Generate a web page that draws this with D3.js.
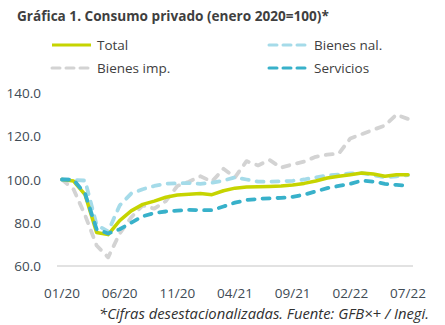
<!DOCTYPE html>
<html>
<head>
<meta charset="utf-8">
<script src="https://d3js.org/d3.v7.min.js"></script>
<style>
  body { margin: 0; background: #fff; }
  text { font-family: "Open Sans", Lato, sans-serif; }
  .title { font-weight: bold; font-size: 13.6px; fill: #3f3f3f; }
  .tick-label { font-size: 13.5px; fill: #404b55; }
  .legend-label { font-size: 13.5px; fill: #404040; }
  .note { font-size: 14.8px; font-style: italic; fill: #303030; }
</style>
</head>
<body>
<div id="chart"></div>
<script>
// monthly, 01/2020 .. 07/2022
const months = ["01/20","02/20","03/20","04/20","05/20","06/20","07/20","08/20","09/20","10/20","11/20","12/20",
  "01/21","02/21","03/21","04/21","05/21","06/21","07/21","08/21","09/21","10/21","11/21","12/21",
  "01/22","02/22","03/22","04/22","05/22","06/22","07/22"];
const xTicks = ["01/20","06/20","11/20","04/21","09/21","02/22","07/22"];
const yTicks = [60, 80, 100, 120, 140];

const total = [100, 99.3, 93, 75.5, 74.5, 81, 85.5, 88.5, 90, 91.8, 92.8, 93.2,
  93.5, 93, 94.8, 96, 96.5, 96.6, 96.8, 97, 97.5, 98.2, 99.3, 100.7,
  101.5, 102.2, 103, 102.5, 101.5, 102.2, 102.2];
const bienesNal = [100, 99.8, 99.5, 79, 76, 88, 93.5, 95.5, 97, 98, 98.3, 98.3,
  98, 98.5, 99.5, 101, 100, 99, 99, 99.2, 99.4, 100, 101, 101.8,
  102.3, 102.8, 103, 102, 101, 101.5, 102];
const bienesImp = [100, 95.5, 83.5, 69.5, 64, 75, 82.5, 88, 86.5, 90, 97, 99,
  101.5, 99, 105, 101, 108.5, 106.5, 109, 105.5, 107, 108.3, 110.5, 111.5,
  112, 119, 121, 123, 125, 130, 128];
const servicios = [100, 99.8, 93.5, 77, 75, 77, 80, 83, 84.5, 85.2, 85.6, 86,
  85.8, 85.8, 87.5, 89.3, 90.5, 91, 91.3, 91.5, 92, 93, 94.5, 96,
  97, 98, 99.5, 99, 98, 97.5, 97];

const series = [
  {name: "Total", values: total, color: "#c6d400", dash: null, width: 3.5},
  {name: "Bienes nal.", values: bienesNal, color: "#a5dbe9", dash: "7,8", width: 3.8},
  {name: "Bienes imp.", values: bienesImp, color: "#d3d3d3", dash: "7,8", width: 3.8},
  {name: "Servicios", values: servicios, color: "#38b1ca", dash: "7,8", width: 3.8}
];
// drawing order (back to front)
const drawOrder = ["Bienes imp.", "Bienes nal.", "Total", "Servicios"];

const W = 445, H = 325;
const svg = d3.select("#chart").append("svg")
  .attr("width", W).attr("height", H);

const x = d3.scalePoint().domain(months).range([62, 408]);
const y = d3.scaleLinear().domain([60, 140]).range([266, 93]);

svg.append("text").attr("class", "title")
  .attr("x", 17).attr("y", 21)
  .text("Gráfica 1. Consumo privado (enero 2020=100)*");

// legend
const legendPos = [
  {name: "Total", x: 50, y: 45},
  {name: "Bienes nal.", x: 267, y: 45},
  {name: "Bienes imp.", x: 50, y: 68},
  {name: "Servicios", x: 267, y: 68}
];
legendPos.forEach(function(p) {
  const s = series.find(function(d) { return d.name === p.name; });
  svg.append("line")
    .attr("x1", p.x + 2).attr("x2", p.x + 41)
    .attr("y1", p.y).attr("y2", p.y)
    .attr("stroke", s.color)
    .attr("stroke-width", 3)
    .attr("stroke-linecap", s.dash ? "round" : "butt")
    .attr("stroke-dasharray", s.dash ? "8,6" : null);
  svg.append("text").attr("class", "legend-label")
    .attr("x", p.x + 47).attr("y", p.y + 5)
    .text(s.name);
});

// y axis labels
svg.append("g").selectAll("text")
  .data(yTicks)
  .enter().append("text")
    .attr("class", "tick-label")
    .attr("x", 41)
    .attr("y", function(d) { return y(d) + 5; })
    .attr("text-anchor", "end")
    .text(function(d) { return d.toFixed(1); });

// baseline
svg.append("line")
  .attr("x1", 57).attr("x2", 413)
  .attr("y1", y(60)).attr("y2", y(60))
  .attr("stroke", "#d9d9d9").attr("stroke-width", 1.5);

// x axis labels
svg.append("g").selectAll("text")
  .data(xTicks)
  .enter().append("text")
    .attr("class", "tick-label")
    .attr("x", function(d) { return x(d); })
    .attr("y", 298)
    .attr("text-anchor", "middle")
    .text(function(d) { return d; });

const line = d3.line()
  .x(function(d, i) { return x(months[i]); })
  .y(function(d) { return y(d); });

drawOrder.forEach(function(n) {
  const s = series.find(function(d) { return d.name === n; });
  svg.append("path")
    .datum(s.values)
    .attr("fill", "none")
    .attr("stroke", s.color)
    .attr("stroke-width", s.width)
    .attr("stroke-linecap", "round")
    .attr("stroke-linejoin", "round")
    .attr("stroke-dasharray", s.dash)
    .attr("d", line);
});

svg.append("text").attr("class", "note")
  .attr("x", 429).attr("y", 319)
  .attr("text-anchor", "end")
  .text("*Cifras desestacionalizadas. Fuente: GFB×+ / Inegi.");
</script>
</body>
</html>
